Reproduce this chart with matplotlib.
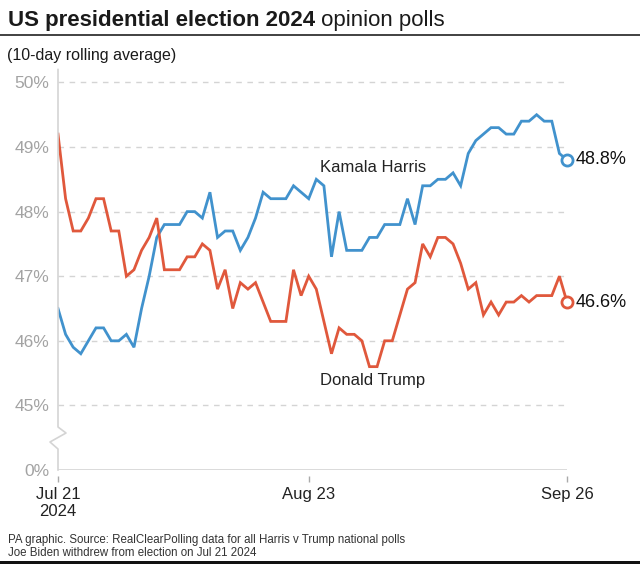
import matplotlib
matplotlib.use("Agg")
import matplotlib.pyplot as plt
from matplotlib.lines import Line2D
from matplotlib.patches import Rectangle
import pandas as pd

plt.rcParams['font.family'] = ['Liberation Sans', 'DejaVu Sans']

# Data: 10-day rolling average, one value per day from Jul 21 to Sep 26 2024
dates = pd.date_range("2024-07-21", "2024-09-26", freq="D")

harris = [46.5, 46.1, 45.9, 45.8, 46.0, 46.2, 46.2, 46.0, 46.0, 46.1,
          45.9, 46.5, 47.0, 47.6, 47.8, 47.8, 47.8, 48.0, 48.0, 47.9,
          48.3, 47.6, 47.7, 47.7, 47.4, 47.6, 47.9, 48.3, 48.2, 48.2,
          48.2, 48.4, 48.3, 48.2, 48.5, 48.4, 47.3, 48.0, 47.4, 47.4,
          47.4, 47.6, 47.6, 47.8, 47.8, 47.8, 48.2, 47.8, 48.4, 48.4,
          48.5, 48.5, 48.6, 48.4, 48.9, 49.1, 49.2, 49.3, 49.3, 49.2,
          49.2, 49.4, 49.4, 49.5, 49.4, 49.4, 48.9, 48.8]

trump = [49.2, 48.2, 47.7, 47.7, 47.9, 48.2, 48.2, 47.7, 47.7, 47.0,
         47.1, 47.4, 47.6, 47.9, 47.1, 47.1, 47.1, 47.3, 47.3, 47.5,
         47.4, 46.8, 47.1, 46.5, 46.9, 46.8, 46.9, 46.6, 46.3, 46.3,
         46.3, 47.1, 46.7, 47.0, 46.8, 46.3, 45.8, 46.2, 46.1, 46.1,
         46.0, 45.6, 45.6, 46.0, 46.0, 46.4, 46.8, 46.9, 47.5, 47.3,
         47.6, 47.6, 47.5, 47.2, 46.8, 46.9, 46.4, 46.6, 46.4, 46.6,
         46.6, 46.7, 46.6, 46.7, 46.7, 46.7, 47.0, 46.6]

ytick_vals = [44, 45, 46, 47, 48, 49, 50]
ytick_labels = ["0%", "45%", "46%", "47%", "48%", "49%", "50%"]
xtick_dates = pd.to_datetime(["2024-07-21", "2024-08-23", "2024-09-26"])
xtick_labels = ["Jul 21\n2024", "Aug 23", "Sep 26"]

harris_col = '#4192cd'
trump_col = '#e0583c'
grid_col = '#d4d4d4'

W, H = 640, 564
fig = plt.figure(figsize=(W / 100, H / 100), dpi=100)


def px(x, y):
    # pixel position (from top-left) -> figure fraction
    return x / W, 1 - y / H


ax = fig.add_axes([58 / W, 1 - 470 / H, 509 / W, 400.5 / H])
ax.set_xlim(dates[0], dates[-1])
ax.set_ylim(44, 50.2)

# dashed gridlines, solid baseline
for v in ytick_vals[1:]:
    ax.axhline(v, color=grid_col, lw=1, ls=(0, (4, 4)), zorder=1)
ax.axhline(44, color=grid_col, lw=1.2, zorder=1)

ax.plot(dates, harris, color=harris_col, lw=2, zorder=3, solid_joinstyle='miter')
ax.plot(dates, trump, color=trump_col, lw=2, zorder=3, solid_joinstyle='miter')
ax.plot(dates[-1], harris[-1], 'o', ms=8, mfc='white', mec=harris_col, mew=2,
        clip_on=False, zorder=4)
ax.plot(dates[-1], trump[-1], 'o', ms=8, mfc='white', mec=trump_col, mew=2,
        clip_on=False, zorder=4)

ax.annotate(f"{harris[-1]}%", (dates[-1], harris[-1]), xytext=(6, 0),
            textcoords='offset points', va='center', ha='left', fontsize=13,
            color='#111111', annotation_clip=False)
ax.annotate(f"{trump[-1]}%", (dates[-1], trump[-1]), xytext=(6, 0),
            textcoords='offset points', va='center', ha='left', fontsize=13,
            color='#111111', annotation_clip=False)

lbl_x = dates[0] + pd.Timedelta(days=34.5)
ax.text(lbl_x, 48.69, "Kamala Harris", fontsize=12, color='#222222', va='center')
ax.text(lbl_x, 45.39, "Donald Trump", fontsize=12, color='#222222', va='center')

# axes styling
for s in ['top', 'right', 'left']:
    ax.spines[s].set_visible(False)
ax.spines['bottom'].set_position(('outward', 4))
ax.spines['bottom'].set_visible(False)
ax.set_yticks(ytick_vals)
ax.set_yticklabels(ytick_labels)
ax.tick_params(axis='y', length=0, pad=6, labelsize=12.5, labelcolor='#a3a3a3')
ax.set_xticks(xtick_dates)
ax.set_xticklabels(xtick_labels)
ax.tick_params(axis='x', length=4.5, width=1, color='#aaaaaa', pad=3.5,
               labelsize=12, labelcolor='#222222')
ax.patch.set_visible(False)

# broken y axis line
pts = [px(58, 69.5), px(58, 427), px(66, 433), px(50, 442), px(58, 449), px(58, 470)]
fig.add_artist(Line2D([p[0] for p in pts], [p[1] for p in pts],
                      transform=fig.transFigure, color=grid_col, lw=1.2))

# title block
t = fig.text(*px(8, 26), "US presidential election 2024", fontsize=16,
             fontweight='bold', color='#1a1a1a', va='baseline')
fig.canvas.draw()
bb = t.get_window_extent()
fig.text(bb.x1 / W, 1 - 26 / H, " opinion polls", fontsize=16,
         color='#1a1a1a', va='baseline')
fig.add_artist(Line2D([0, 1], [1 - 34.5 / H] * 2, transform=fig.transFigure,
                      color='#333333', lw=1.3))
fig.text(*px(7, 60), "(10-day rolling average)", fontsize=11.5,
         color='#1a1a1a', va='baseline')

# footer
fig.text(*px(8, 543.5), "PA graphic. Source: RealClearPolling data for all Harris v Trump national polls",
         fontsize=8.3, color='#333333', va='baseline')
fig.text(*px(8, 556), "Joe Biden withdrew from election on Jul 21 2024",
         fontsize=8.3, color='#333333', va='baseline')
fig.add_artist(Rectangle(px(0, 564), 1, 3.5 / H, transform=fig.transFigure,
                         color='#111111', lw=0))

fig.savefig("out.png", dpi=100)
